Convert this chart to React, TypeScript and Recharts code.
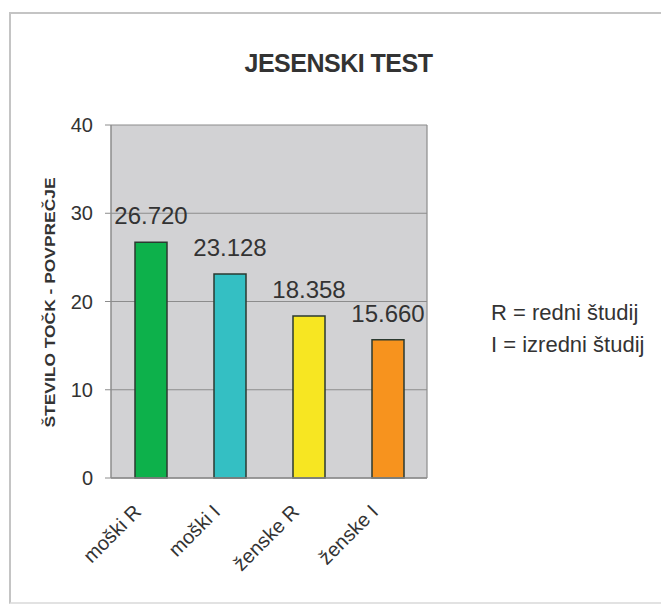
import React from 'react';
import { BarChart, Bar, XAxis, YAxis, CartesianGrid, LabelList, Cell } from 'recharts';

const categories = ['moški R', 'moški I', 'ženske R', 'ženske I'];
const averages = [26.72, 23.128, 18.358, 15.66];
const barColors = ['#0db14b', '#34bfc3', '#f7e622', '#f7931e'];
const yTicks = [0, 10, 20, 30, 40];
const notes = ['R = redni študij', 'I = izredni študij'];

const data = categories.map((name, i) => ({ name, value: averages[i] }));

const FONT = '"Liberation Sans", Arial, Helvetica, sans-serif';
const TEXT = '#333333';

function XTick(props: any) {
  const { x, y, payload } = props;
  return (
    <text
      x={x - 8}
      y={y + 27}
      transform={`rotate(-45, ${x - 8}, ${y + 27})`}
      textAnchor="end"
      fontSize={20}
      fontFamily={FONT}
      fill={TEXT}
    >
      {payload.value}
    </text>
  );
}

function YLabel(props: any) {
  const { viewBox } = props;
  const cx = 50;
  const cy = viewBox.y + viewBox.height / 2 + 1;
  return (
    <text
      x={cx}
      y={cy}
      transform={`rotate(-90, ${cx}, ${cy})`}
      textAnchor="middle"
      dominantBaseline="central"
      fontSize={14}
      fontWeight="bold"
      fontFamily={FONT}
      fill={TEXT}
      textLength={250}
      lengthAdjust="spacingAndGlyphs"
    >
      ŠTEVILO TOČK - POVPREČJE
    </text>
  );
}

export default function App() {
  return (
    <div
      style={{
        position: 'absolute',
        left: 0,
        top: 0,
        width: 661,
        height: 604,
        overflow: 'hidden',
        background: '#ffffff',
        fontFamily: FONT,
      }}
    >
      <div
        style={{
          position: 'absolute',
          left: 9,
          top: 12,
          width: 700,
          height: 588,
          borderLeft: '2px solid #c4c4c4',
          borderTop: '2px solid #c4c4c4',
          borderBottom: '2px solid #e2e2e2',
        }}
      />
      <div
        style={{
          position: 'absolute',
          left: 0,
          top: 49,
          width: 677,
          textAlign: 'center',
          fontSize: 25,
          fontWeight: 'bold',
          letterSpacing: -0.5,
          color: TEXT,
        }}
      >
        JESENSKI TEST
      </div>
      <div
        style={{
          position: 'absolute',
          left: 491,
          top: 297,
          fontSize: 22,
          lineHeight: '32px',
          color: TEXT,
        }}
      >
        {notes.map((n) => (
          <div key={n}>{n}</div>
        ))}
      </div>
      <div style={{ position: 'absolute', left: 0, top: 0 }}>
        <BarChart
          width={661}
          height={604}
          data={data}
          margin={{ top: 125, right: 234, bottom: 0, left: 0 }}
          barSize={32}
        >
          <CartesianGrid
            fill="#d2d2d4"
            stroke="#8c8c8c"
            strokeWidth={1.2}
            vertical={true}
            verticalCoordinatesGenerator={({ offset }: any) => [offset.left + offset.width]}
          />
          <XAxis
            dataKey="name"
            height={126}
            interval={0}
            tick={<XTick />}
            tickLine={false}
            axisLine={{ stroke: '#8c8c8c', strokeWidth: 1.5 }}
          />
          <YAxis
            width={111}
            domain={[0, 40]}
            ticks={yTicks}
            tickSize={6}
            tickMargin={12}
            tick={{ fontSize: 20, fill: TEXT, fontFamily: FONT }}
            tickLine={{ stroke: '#8c8c8c' }}
            axisLine={{ stroke: '#8c8c8c', strokeWidth: 1.5 }}
            label={<YLabel />}
          />
          <Bar dataKey="value" stroke="#2b3a30" strokeWidth={1.5} isAnimationActive={false}>
            {data.map((d, i) => (
              <Cell key={d.name} fill={barColors[i]} />
            ))}
            <LabelList
              dataKey="value"
              position="top"
              offset={18}
              formatter={(v: any) => Number(v).toFixed(3)}
              style={{ fontSize: 24, fill: TEXT, fontFamily: FONT }}
            />
          </Bar>
        </BarChart>
      </div>
    </div>
  );
}
